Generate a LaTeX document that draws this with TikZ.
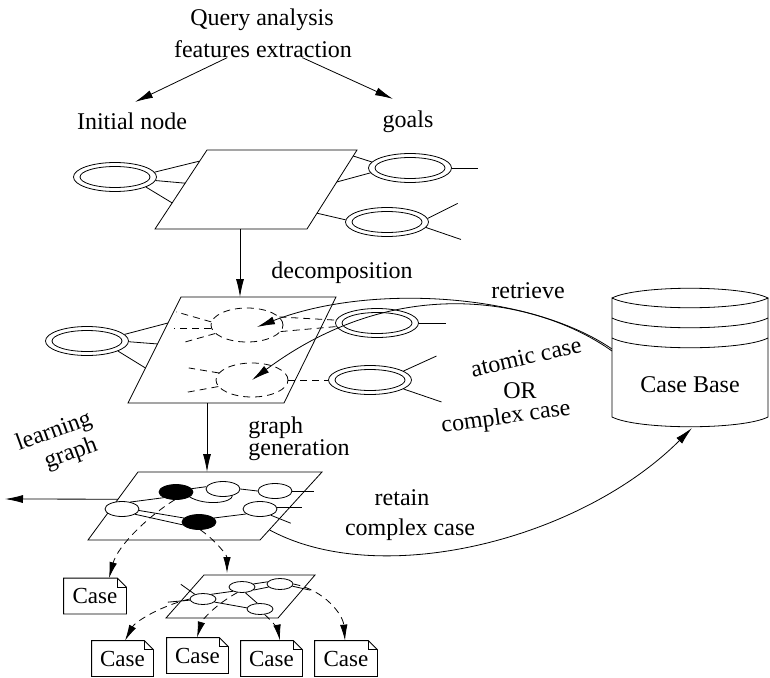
\documentclass[tikz,border=0pt]{standalone}
\usepackage{fontspec}
\setmainfont{Liberation Serif}
\usetikzlibrary{arrows.meta,shapes.geometric,calc}

% double-lined ellipse node
\newcommand\dblell[2]{%
  \node[dell] (#1) at (#2) {};
  \draw (#1.center) ellipse [x radius=35pt, y radius=10.5pt];}
% case document with a folded corner
\newcommand\casedoc[3]{%
  \node[docbox,minimum width=#3] (#1) at (#2) {Case};
  \draw (#1.north west) -- ([xshift=-9pt]#1.north east) -- ([yshift=-9pt]#1.north east)
        -- (#1.south east) -- (#1.south west) -- cycle;
  \draw ([xshift=-9pt]#1.north east) |- ([yshift=-9pt]#1.north east);}

\begin{document}
\begin{tikzpicture}[x=1pt,y=-1pt,line width=0.8pt,
  font=\fontsize{24}{28}\selectfont,
  lbl/.style={anchor=base,inner sep=0pt},
  arr/.style={-{Latex[length=18pt,width=8pt]}},
  dsh/.style={dash pattern=on 7pt off 5pt},
  darr/.style={dsh,-{Latex[length=16pt,width=7.5pt]}},
  dell/.style={ellipse,draw,minimum width=83pt,minimum height=29pt,inner sep=0pt},
  dcirc/.style={ellipse,draw,dsh,minimum width=72pt,minimum height=34pt,inner sep=0pt},
  gw/.style={ellipse,draw,fill=white,minimum width=34pt,minimum height=15pt,inner sep=0pt},
  gb/.style={gw,fill=black},
  sw/.style={ellipse,draw,fill=white,minimum width=26pt,minimum height=11pt,inner sep=0pt},
  docbox/.style={rectangle,minimum height=35pt,inner sep=0pt,font=\fontsize{23}{26}\selectfont}]

\useasboundingbox (0,0) rectangle (770,677);

% ---------- query analysis ----------
\node[lbl] (qa) at (262,26) {Query analysis};
\node[lbl] (fe) at (263,57) {features extraction};
\node[lbl] (in) at (132,129) {Initial node};
\node[lbl] (gl) at (408,127) {goals};
\draw[arr] ($(fe.south west)!0.3!(fe.south east)$) -- ([xshift=3pt,yshift=10pt]in.north);
\draw[arr] ($(fe.south west)!0.72!(fe.south east)$) -- ([xshift=-15pt,yshift=11pt]gl.north);

% ---------- first plane ----------
\coordinate (p1a) at (207,150); \coordinate (p1b) at (357,150);
\coordinate (p1c) at (307,229); \coordinate (p1d) at (155,229);
\draw (p1a) -- (p1b) -- (p1c) -- (p1d) -- cycle;
\dblell{l1}{115,177}
\draw (l1.7) -- ($(p1a)!0.14!(p1d)$);
\draw (l1.-5) -- ($(p1a)!0.42!(p1d)$);
\draw (l1.-18) -- ($(p1a)!0.67!(p1d)$);
\dblell{r1a}{410,168}
\dblell{r1b}{387,222}
\draw (r1a.171) -- ($(p1b)!0.076!(p1c)$);
\draw (r1a.187) -- ($(p1b)!0.405!(p1c)$);
\draw (r1a.east) -- ++(26,0);
\draw (r1b.177) -- ($(p1b)!0.8!(p1c)$);
\draw (r1b.5) -- ++(30,-15);
\draw (r1b.-8) -- ++(35,12);

\coordinate (d1) at (240,229); \coordinate (d2) at (240,297);
\draw[arr] (d1) -- (d2);
\node[lbl] (dec) at (342,278) {decomposition};

% ---------- second plane ----------
\coordinate (p2a) at (181,297); \coordinate (p2b) at (336,297);
\coordinate (p2c) at (284,403); \coordinate (p2d) at (128,403);
\draw (p2a) -- (p2b) -- (p2c) -- (p2d) -- cycle;
\dblell{l2}{87,341}
\draw (l2.10) -- ($(p2a)!0.245!(p2d)$);
\draw (l2.-1) -- ($(p2a)!0.443!(p2d)$);
\draw (l2.-18) -- ($(p2a)!0.67!(p2d)$);
\node[dcirc] (dc1) at (247,325) {};
\node[dcirc] (dc2) at (252,380) {};
\dblell{r2a}{377,323}
\dblell{r2b}{370,380}
\draw[dsh] (dc1.175) -- ++(-35,-10);
\draw[dsh] (dc1.185) -- ++(-37,0);
\draw[dsh] (dc1.195) -- ++(-32,9);
\draw[dsh] (dc1.14) -- (r2a.176);
\draw[dsh] (dc1.-11) -- (r2a.185);
\draw[dsh] (dc2.168) -- ++(-30,-5);
\draw[dsh] (dc2.191) -- ++(-33,6);
\draw[dsh] (dc2.east) -- (r2b.west);
\draw (r2a.east) -- ++(27,0);
\draw (r2b.15) -- ++(33,-15);
\draw (r2b.-15) -- ++(38,13);

% ---------- case base ----------
\draw (612,298) .. controls (638,285) and (742,285) .. (768,298)
      .. controls (742,311) and (638,311) .. (612,298) -- (612,417)
      .. controls (638,430) and (742,430) .. (768,417) -- (768,298);
\draw (612,318) .. controls (638,331) and (742,331) .. (768,318);
\draw (612,338) .. controls (638,351) and (742,351) .. (768,338);
\node[lbl] (cb) at (690,392) {Case Base};
\coordinate (rt1) at (612,349);
\coordinate (rt2) at (612,351);
\coordinate (cbb) at (692,428);

\draw[arr] (rt1) .. controls (530,293) and (370,283) .. ([xshift=10pt,yshift=-2pt]dc1.center);
\draw[arr] (rt2) .. controls (540,300) and (400,270) .. (dc2.center);
\node[lbl] (rtv) at (528,298) {retrieve};
\node[rotate=13,inner sep=0pt] (ac) at (526,357) {atomic case};
\node[lbl] (or) at (520,398) {OR};
\node[rotate=8,inner sep=0pt] (cc) at (506,418) {complex case};

% ---------- learning graph ----------
\coordinate (g1) at (207,403); \coordinate (g2) at (207,472);
\draw[arr] (g1) -- (g2);
\node[lbl,anchor=base west] (gg1) at (248,433) {graph};
\node[lbl,anchor=base west] (gg2) at (248,455) {generation};

\coordinate (p3a) at (138,472); \coordinate (p3b) at (322,472);
\coordinate (p3c) at (260,540); \coordinate (p3d) at (88,540);
\draw (p3a) -- (p3b) -- (p3c) -- (p3d) -- cycle;
\coordinate (lg) at ($(p3a)!0.4!(p3d)$);
\coordinate (lgt) at (5,499);
\draw[arr] (lg) -- (lgt);
\node[rotate=20,inner sep=0pt] (lgl1) at (54,432) {learning};
\node[rotate=20,inner sep=0pt] (lgl2) at (71,454) {graph};

\node[gb] (A) at (176,492) {};
\node[gw] (B) at (223,489) {};
\node[gw] (C) at (275,491) {};
\node[gw] (D) at (122,509) {};
\node[gb] (E) at (199,522) {};
\node[gw] (F) at (260,509) {};
\draw (D.40) -- (A.205);
\draw (A.12) -- (B.172);
\draw (A.-20) .. controls (205,506) and (232,503) .. (B.-35);
\draw (B.east) -- (C.west);
\draw (C.east) -- ++(22,0);
\draw (D.-5) -- (E.165);
\draw (D.-22) -- (E.190);
\draw (E.15) -- (F.200);
\draw (F.5) -- ++(25,0);
\draw (F.-30) -- ++(20,8);

% retain
\coordinate (rs) at ($(p3b)!0.85!(p3c)$);
\draw[arr] (rs) .. controls (380,590) and (580,540) .. (cbb);
\node[lbl] (rtn) at (402,505) {retain};
\node[lbl] (rcc) at (410,535) {complex case};

% ---------- sub graph and cases ----------
\casedoc{c0}{95,596}{62pt}
\draw[darr] (A.-100) .. controls (150,515) and (118,545) .. (c0.north east -| 109,0);

\coordinate (p4a) at (204,575); \coordinate (p4b) at (315,575);
\coordinate (p4c) at (278,618); \coordinate (p4d) at (166,618);
\draw (p4a) -- (p4b) -- (p4c) -- (p4d) -- cycle;
\coordinate (sgt) at (227,573);
\draw[darr] (E.-80) .. controls (215,540) and (227,555) .. (sgt);

\node[sw] (n1) at (203,599) {};
\node[sw] (n2) at (242,587) {};
\node[sw] (n3) at (280,584) {};
\node[sw] (n4) at (260,609) {};
\draw (n1.30) -- (n2.205);
\draw (n2.15) -- (n3.170);
\draw (n2.-15) -- (n3.195);
\draw (n2.-60) -- (n4.115);
\draw (n1.-15) -- (n4.175);
\draw (n1.150) -- ++(-14,-10);
\draw (n1.185) -- ++(-22,2);
\draw (n3.-10) -- ++(18,4);

\casedoc{c1}{122.5,658.5}{61pt}
\casedoc{c2}{197.5,655.5}{61pt}
\casedoc{c3}{271.5,658.5}{61pt}
\casedoc{c4}{346,658.5}{62pt}
\draw[darr] (n1.west) .. controls (160,606) and (135,622) .. (c1.north -| 125,0);
\draw[darr] (n2.-130) .. controls (215,605) and (202,620) .. (c2.north -| 197,0);
\draw[darr] (n4.-50) .. controls (273,622) and (278,630) .. (c3.north -| 280,0);
\draw[darr] (n3.east) .. controls (325,590) and (343,615) .. (c4.north -| 345,0);
\end{tikzpicture}
\end{document}
